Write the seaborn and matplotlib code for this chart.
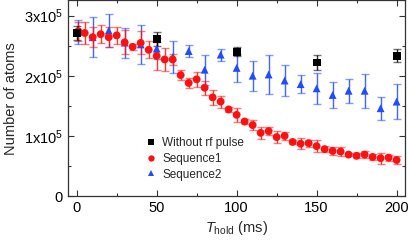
import numpy as np
import pandas as pd
import matplotlib
matplotlib.use('Agg')
import matplotlib.pyplot as plt
import seaborn as sns
from matplotlib.ticker import MultipleLocator, FixedLocator

# data (units of 1e5 atoms)
t_ref = [0, 50, 100, 150, 200]
n_ref = [2.71, 2.61, 2.40, 2.22, 2.33]
e_ref = [0.12, 0.12, 0.07, 0.12, 0.11]

t_seq1 = [1, 5, 10, 15, 20, 25, 30, 35, 40, 45, 50, 55, 60, 65, 70, 75, 80, 85, 90, 95, 100,
          105, 110, 115, 120, 125, 130, 135, 140, 145, 150, 155, 160, 165, 170, 175, 180,
          185, 190, 195, 200]
n_seq1 = [2.74, 2.71, 2.64, 2.69, 2.64, 2.67, 2.555, 2.48, 2.545, 2.43, 2.33, 2.27, 2.27,
          2.01, 1.88, 1.94, 1.80, 1.64, 1.57, 1.44, 1.35,
          1.24, 1.18, 1.05, 1.08, 0.98, 1.00, 0.90, 0.87, 0.88, 0.83, 0.78, 0.75, 0.74,
          0.69, 0.67, 0.69, 0.65, 0.63, 0.64, 0.60]
e_seq1 = [0.16, 0.19, 0.17, 0.15, 0.17, 0.14, 0.2, 0.05, 0.19, 0.14, 0.23, 0.19, 0.09,
          0.08, 0.08, 0.12, 0.12, 0.12, 0.1, 0.04, 0.12,
          0.04, 0.08, 0.1, 0.07, 0.1, 0.07, 0.03, 0.09, 0.06, 0.1, 0.05, 0.07, 0.07,
          0.03, 0.04, 0.06, 0.05, 0.09, 0.05, 0.06]

t_seq2 = [1, 10, 20, 30, 40, 50, 60, 70, 80, 90, 100, 110, 120, 130, 140, 150, 160, 170,
          180, 190, 200]
n_seq2 = [2.73, 2.64, 2.75, 2.55, 2.52, 2.45, 2.31, 2.41, 2.10, 2.35, 2.13, 2.0, 2.02,
          1.92, 1.86, 1.79, 1.68, 1.75, 1.75, 1.46, 1.57]
e_seq2 = [0.2, 0.33, 0.28, 0.25, 0.32, 0.17, 0.27, 0.1, 0.25, 0.1, 0.23, 0.25, 0.32,
          0.25, 0.155, 0.26, 0.22, 0.2, 0.28, 0.19, 0.29]

labels = ['Without rf pulse', 'Sequence1', 'Sequence2']
colors = {'Without rf pulse': '#000000', 'Sequence1': '#ff1010', 'Sequence2': '#1f4cff'}
markers = {'Without rf pulse': 's', 'Sequence1': 'o', 'Sequence2': '^'}

df = pd.concat([
    pd.DataFrame({'t': t_seq2, 'n': np.array(n_seq2) * 1e5, 'err': np.array(e_seq2) * 1e5, 'set': 'Sequence2'}),
    pd.DataFrame({'t': t_seq1, 'n': np.array(n_seq1) * 1e5, 'err': np.array(e_seq1) * 1e5, 'set': 'Sequence1'}),
    pd.DataFrame({'t': t_ref, 'n': np.array(n_ref) * 1e5, 'err': np.array(e_ref) * 1e5, 'set': 'Without rf pulse'}),
], ignore_index=True)

sns.set_style('ticks')
plt.rcParams['font.family'] = ['Liberation Sans', 'DejaVu Sans']
plt.rcParams['mathtext.fontset'] = 'custom'
plt.rcParams['mathtext.rm'] = 'Liberation Sans'
plt.rcParams['mathtext.it'] = 'Liberation Sans:italic'
plt.rcParams['mathtext.default'] = 'regular'

fig = plt.figure(figsize=(4.09, 2.43), dpi=100)
ax = fig.add_axes([0.166, 0.193, 0.824, 0.805])

for name in ['Sequence2', 'Sequence1', 'Without rf pulse']:
    sub = df[df['set'] == name]
    line, caps, bars = ax.errorbar(sub['t'], sub['n'], yerr=sub['err'], fmt='none',
                                   ecolor=colors[name], elinewidth=1.0, capsize=2.6,
                                   capthick=1.0, zorder=2)
    for c in caps:
        c.set_alpha(0.55)
    for b in bars:
        b.set_alpha(0.85)

sns.scatterplot(data=df, x='t', y='n', hue='set', style='set', hue_order=labels,
                style_order=labels, palette=colors, markers=markers, s=32,
                linewidth=0, ax=ax, zorder=3)

ax.set_xlim(-5.5, 205.2)
ax.set_ylim(0, 3.25e5)
ax.xaxis.set_major_locator(MultipleLocator(50))
ax.xaxis.set_minor_locator(MultipleLocator(25))
ax.yaxis.set_major_locator(FixedLocator([0, 1e5, 2e5, 3e5]))
ax.yaxis.set_minor_locator(MultipleLocator(0.5e5))
ax.set_yticklabels(['0', r'1x10$^{5}$', r'2x10$^{5}$', r'3x10$^{5}$'])
ax.tick_params(which='both', direction='in', top=True, right=True, colors='#333333',
               labelcolor='black', labelsize=10.5, width=0.8)
ax.tick_params(which='major', length=4.5)
ax.tick_params(which='minor', length=2.5)
for s in ax.spines.values():
    s.set_color('#333333')
    s.set_linewidth(0.9)
    s.set_visible(True)

ax.set_xlabel(r'$\mathit{T}_{\mathrm{hold}}$ (ms)', fontsize=10.5, labelpad=3)
ax.set_ylabel('Number of atoms', fontsize=10.5, labelpad=4)

handles, labs = ax.get_legend_handles_labels()
ax.legend(handles, labs, loc='upper left', bbox_to_anchor=(0.213, 0.33), frameon=False,
          fontsize=8.5, handlelength=1.0, handletextpad=0.4, borderpad=0,
          labelspacing=0.3, markerscale=0.8)

fig.savefig('out.png', dpi=100)
